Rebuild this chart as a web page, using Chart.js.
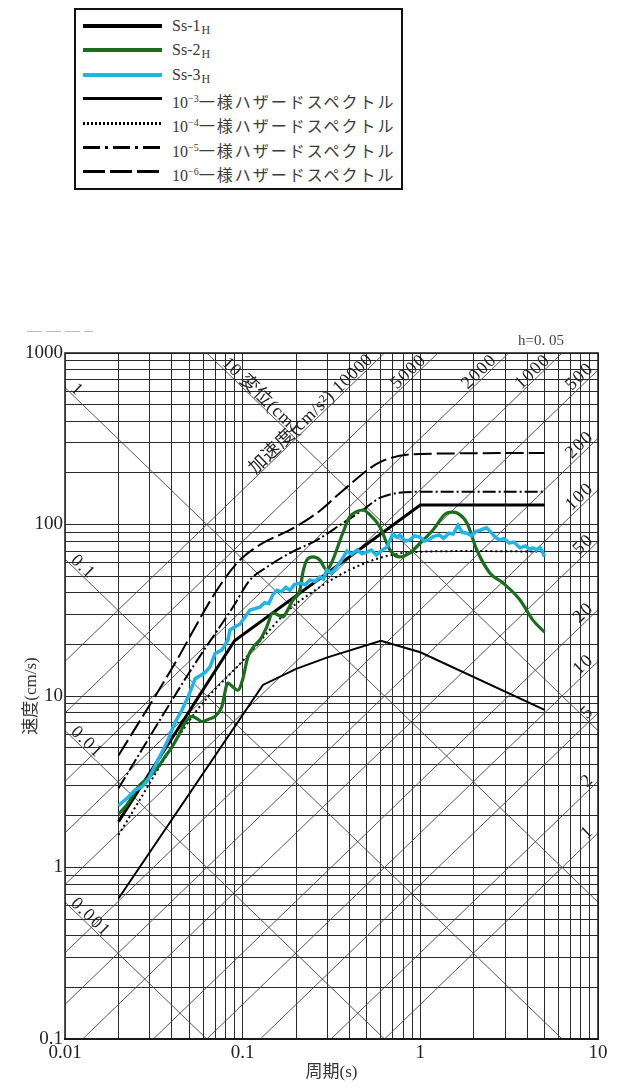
<!DOCTYPE html>
<html>
<head>
<meta charset="utf-8">
<script src="https://cdn.jsdelivr.net/npm/chart.js@4.4.1/dist/chart.umd.min.js"></script>
<style>
html,body{margin:0;padding:0;background:#fff;}
#wrap{position:relative;width:620px;height:1091px;overflow:hidden;background:#fff;}
#c{position:absolute;left:0;top:0;}
#legend{position:absolute;left:74px;top:8px;width:325px;height:178px;border:2.5px solid #111;background:#fff;font-family:"Liberation Serif","Noto Sans CJK JP",serif;color:#3a3a3a;}
.row{position:absolute;left:0;height:24px;width:100%;}
.sample{position:absolute;left:7px;width:79px;}
.lbl{position:absolute;left:96px;top:0;line-height:24px;font-size:16px;white-space:nowrap;}
.lbl sub{font-size:12px;vertical-align:-3px;margin-left:1px;}
.lbl sup{font-size:10px;vertical-align:6px;}
.jp{letter-spacing:2px;}
#hval{position:absolute;left:518px;top:332px;font:15px "Liberation Serif",serif;color:#444;white-space:nowrap;}
#dash{position:absolute;left:27px;top:331px;width:66px;height:1px;background:repeating-linear-gradient(to right,#bbb 0 15px,transparent 15px 19px);}
</style>
</head>
<body>
<div id="wrap">
<canvas id="c" width="620" height="1091"></canvas>
<div id="dash"></div>
<div id="hval">h=0. 05</div>
<div id="legend">
  <div class="row" style="top:4px"><span class="sample" style="top:10px;height:4px;background:#000"></span><span class="lbl">Ss-1<sub>H</sub></span></div>
  <div class="row" style="top:28.3px"><span class="sample" style="top:10px;height:4px;background:#1b6e1b"></span><span class="lbl">Ss-2<sub>H</sub></span></div>
  <div class="row" style="top:52.6px"><span class="sample" style="top:10px;height:4.5px;background:#1fb4ea"></span><span class="lbl">Ss-3<sub>H</sub></span></div>
  <div class="row" style="top:76.9px"><span class="sample" style="top:10.5px;height:3px;background:#000"></span><span class="lbl">10<sup>−3</sup><span class="jp">一様ハザードスペクトル</span></span></div>
  <div class="row" style="top:101.2px"><span class="sample" style="top:11px;height:2.5px;background:repeating-linear-gradient(to right,#000 0 2px,transparent 2px 4px)"></span><span class="lbl">10<sup>−4</sup><span class="jp">一様ハザードスペクトル</span></span></div>
  <div class="row" style="top:125.5px"><span class="sample" style="top:10.5px;height:3px;background:repeating-linear-gradient(to right,#000 0 17px,transparent 17px 22px,#000 22px 25px,transparent 25px 30px)"></span><span class="lbl">10<sup>−5</sup><span class="jp">一様ハザードスペクトル</span></span></div>
  <div class="row" style="top:149.8px"><span class="sample" style="top:10.5px;height:3px;background:repeating-linear-gradient(to right,#000 0 22px,transparent 22px 27px)"></span><span class="lbl">10<sup>−6</sup><span class="jp">一様ハザードスペクトル</span></span></div>
</div>
</div>
<script>
// ---- axis definitions ----
const xDecades = [0.01, 0.1, 1, 10];
const yDecades = [0.1, 1, 10, 100, 1000];
const displacementLines = [0.001, 0.01, 0.1, 1, 10];          // cm
const accelerationLines = [1, 2, 5, 10, 20, 50, 100, 200, 500, 1000, 2000, 5000, 10000]; // cm/s2

// ---- series ----
const periodSs1 = [0.02, 0.09, 1.0, 5.0];
const velSs1    = [1.85, 21, 130, 130];

const periodSs2 = [0.02, 0.0225, 0.0258, 0.03, 0.0334, 0.037, 0.040, 0.044, 0.0473, 0.0517, 0.055, 0.059, 0.064, 0.070, 0.0762, 0.0826, 0.088, 0.094, 0.100, 0.107, 0.117, 0.125, 0.136, 0.148, 0.160, 0.1685, 0.180, 0.192, 0.210, 0.218, 0.230, 0.249, 0.272, 0.297, 0.316, 0.366, 0.400, 0.440, 0.475, 0.520, 0.593, 0.675, 0.767, 0.873, 1.0, 1.178, 1.41, 1.52, 1.61, 1.83, 2.08, 2.46, 2.92, 3.64, 4.3, 5.0];
const velSs2    = [2.05, 2.35, 2.95, 3.4, 3.86, 4.5, 5.04, 6.0, 6.96, 7.6, 7.4, 7.1, 7.3, 7.6, 8.63, 11.9, 11.3, 10.8, 12.5, 16.9, 19.8, 21.2, 25, 30.5, 29.5, 28.9, 32, 36.3, 41.5, 52.2, 62.1, 64.7, 62.1, 54.3, 59.6, 89.2, 110.6, 119, 121.5, 114, 96.7, 71, 64.7, 68.2, 78, 92.9, 116.7, 118, 116.7, 102, 71, 52.2, 45.6, 36.3, 27.7, 23.6];

const periodSs3 = [0.02, 0.0225, 0.0248, 0.0271, 0.0293, 0.0334, 0.038, 0.0416, 0.0455, 0.0493, 0.054, 0.0614, 0.0655, 0.070, 0.0762, 0.0826, 0.0848, 0.0966, 0.110, 0.125, 0.133, 0.140, 0.148, 0.156, 0.165, 0.175, 0.1845, 0.195, 0.210, 0.225, 0.239, 0.255, 0.272, 0.285, 0.297, 0.315, 0.338, 0.360, 0.386, 0.410, 0.440, 0.470, 0.500, 0.530, 0.565, 0.600, 0.650, 0.700, 0.740, 0.767, 0.820, 0.873, 0.930, 1.0, 1.05, 1.11, 1.18, 1.28, 1.35, 1.45, 1.53, 1.63, 1.72, 1.83, 1.95, 2.05, 2.17, 2.36, 2.50, 2.65, 2.79, 2.95, 3.17, 3.35, 3.64, 3.90, 4.10, 4.30, 4.50, 4.70, 4.85, 5.0];
const velSs3    = [2.3, 2.55, 2.83, 2.95, 3.24, 4.24, 5.54, 7.0, 8.28, 9.86, 12.6, 13.7, 14.8, 17.7, 18.5, 21.2, 24.3, 26.3, 31.7, 33, 35, 34.5, 39, 41.3, 40.5, 43, 41.3, 44.5, 45.6, 44.5, 47.5, 46.5, 49.4, 48, 54.3, 52, 56.5, 62, 70, 67, 71, 67.5, 69, 71, 66.3, 70, 74, 88, 84, 87, 80, 81.2, 86, 84.3, 80, 81.2, 85, 87, 83, 89, 88, 99, 90, 89, 86, 91, 92.6, 95.7, 90, 84, 81.2, 83, 78, 79, 73.1, 75, 72, 73.1, 71, 73.5, 70, 65];

const periodH3 = [0.02, 0.13, 0.2, 0.3, 0.6, 1.0, 5.0];
const velH3    = [0.66, 11.6, 14.4, 16.8, 21, 18, 8.3];
const periodH4 = [0.02, 0.054, 0.1, 0.2, 0.9, 2.0, 5.0];
const velH4    = [1.55, 8.0, 16, 34.5, 69, 70, 69.5];
const periodH5 = [0.02, 0.0525, 0.0882, 0.11, 0.137, 0.1845, 0.262, 0.367, 0.475, 0.6, 1.0, 5.0];
const velH5    = [2.9, 14.8, 33, 47.5, 56.5, 68.2, 81.2, 102, 121.5, 144, 155, 155];
const periodH6 = [0.02, 0.0405, 0.0717, 0.0966, 0.13, 0.1845, 0.262, 0.367, 0.593, 1.0, 5.0];
const velH6    = [4.5, 14.8, 41.5, 62.1, 78, 92.9, 116.7, 158, 231, 258, 261];

// ---- helpers ----
const pts = (t, v) => t.map((p, i) => ({x: p, y: v[i]}));
function tickList(decades) {
  const out = [];
  for (let i = 0; i < decades.length - 1; i++) {
    for (let m = 1; m <= 9; m++) out.push(Number((decades[i] * m).toPrecision(6)));
  }
  out.push(decades[decades.length - 1]);
  return out;
}
function decadeLabel(v) {
  const e = Math.log10(v), r = Math.round(e);
  if (Math.abs(e - r) > 1e-6) return '';
  return r < 0 ? v.toFixed(-r) : String(Math.round(v));
}
const SERIF = '"Liberation Serif", "Noto Sans CJK JP", serif';
Chart.defaults.font.family = SERIF;

const diagPlugin = {
  id: 'diag',
  beforeDatasetsDraw(chart) {
    const {ctx, chartArea: a, scales: {x, y}} = chart;
    const xMin = xDecades[0], xMax = xDecades[xDecades.length - 1];
    const yMax = yDecades[yDecades.length - 1];
    const TWO_PI = 2 * Math.PI;
    ctx.save();
    ctx.beginPath();
    ctx.rect(a.left, a.top, a.right - a.left, a.bottom - a.top);
    ctx.clip();
    ctx.strokeStyle = '#444';
    ctx.lineWidth = 0.9;
    const seg = (t0, v0, t1, v1) => {
      ctx.beginPath();
      ctx.moveTo(x.getPixelForValue(t0), y.getPixelForValue(v0));
      ctx.lineTo(x.getPixelForValue(t1), y.getPixelForValue(v1));
      ctx.stroke();
    };
    displacementLines.forEach(D => seg(xMin, TWO_PI * D / xMin, xMax, TWO_PI * D / xMax));
    accelerationLines.forEach(A => seg(xMin, A * xMin / TWO_PI, xMax, A * xMax / TWO_PI));
    ctx.restore();

    // labels
    const ux0 = x.getPixelForValue(10) - x.getPixelForValue(1);
    const uy0 = y.getPixelForValue(10) - y.getPixelForValue(1);
    const len = Math.hypot(ux0, uy0);
    const ua = {x: ux0 / len, y: uy0 / len};      // ascending (up-right)
    const ud = {x: ux0 / len, y: -uy0 / len};     // descending (down-right)
    const angA = Math.atan2(ua.y, ua.x), angD = Math.atan2(ud.y, ud.x);
    ctx.save();
    ctx.fillStyle = '#1e1e1e';
    ctx.font = '18px ' + SERIF;
    const put = (txt, px, py, ang, align, off, spacing) => {
      ctx.save();
      try { ctx.letterSpacing = spacing; } catch (e) {}
      ctx.translate(px, py);
      ctx.rotate(ang);
      ctx.textAlign = align;
      ctx.textBaseline = 'alphabetic';
      ctx.fillText(txt, 0, -off);
      ctx.restore();
    };
    accelerationLines.forEach(A => {
      const tTop = TWO_PI * yMax / A;
      const long = A === 10000;
      const txt = long ? '加速度(cm/s²) 10000' : String(A);
      if (tTop <= xMax) {
        const px = x.getPixelForValue(tTop), py = a.top;
        put(txt, px - ua.x * 13, py - ua.y * 13, angA, 'right', 2, long ? '0.6px' : '1.5px');
      } else {
        const px = a.right, py = y.getPixelForValue(A * xMax / TWO_PI);
        put(txt, px - ua.x * 2, py - ua.y * 2, angA, 'right', 3, '1.5px');
      }
    });
    displacementLines.forEach(D => {
      const vLeft = TWO_PI * D / xMin;
      if (vLeft <= yMax) {
        const px = a.left, py = y.getPixelForValue(vLeft);
        put(String(D), px + ud.x * 5, py + ud.y * 5, angD, 'left', 2, '1.5px');
      } else {
        const px = x.getPixelForValue(TWO_PI * D / yMax), py = a.top;
        put(D + ' 変位(cm)', px + ud.x * 18, py + ud.y * 18, angD, 'left', 2, '0.8px');
      }
    });
    ctx.restore();

    // frame
    ctx.save();
    ctx.strokeStyle = '#1a1a1a';
    ctx.lineWidth = 1.5;
    ctx.strokeRect(a.left, a.top, a.right - a.left, a.bottom - a.top);
    ctx.lineWidth = 2;
    ctx.beginPath(); ctx.moveTo(a.left, a.bottom); ctx.lineTo(a.right, a.bottom); ctx.stroke();
    ctx.restore();
  }
};

const GREEN = '#1b6e1b', CYAN = '#1fb4ea';
const line = (label, t, v, color, width, dash, order, extra) => Object.assign({
  label, data: pts(t, v), showLine: true, borderColor: color, backgroundColor: color,
  borderWidth: width, borderDash: dash, pointRadius: 0, fill: false, order, tension: 0
}, extra || {});

new Chart(document.getElementById('c'), {
  type: 'scatter',
  data: {
    datasets: [
      line('Ss-3H', periodSs3, velSs3, CYAN, 3.5, [], 0),
      line('Ss-2H', periodSs2, velSs2, GREEN, 3.2, [], 1, {cubicInterpolationMode: 'monotone'}),
      line('Ss-1H', periodSs1, velSs1, '#000', 3, [], 2),
      line('1e-3', periodH3, velH3, '#000', 2, [], 3),
      line('1e-4', periodH4, velH4, '#000', 2, [2, 3], 4, {cubicInterpolationMode: 'monotone'}),
      line('1e-5', periodH5, velH5, '#000', 2, [13, 3, 2, 3], 5, {cubicInterpolationMode: 'monotone'}),
      line('1e-6', periodH6, velH6, '#000', 2, [18, 5], 6, {cubicInterpolationMode: 'monotone'})
    ]
  },
  options: {
    responsive: false,
    animation: false,
    devicePixelRatio: 1,
    layout: {padding: {left: 0, top: 353, right: 22, bottom: 0}},
    plugins: {legend: {display: false}, tooltip: {enabled: false}},
    scales: {
      x: {
        type: 'logarithmic', min: xDecades[0], max: xDecades[xDecades.length - 1],
        afterFit: s => { s.height = 52; },
        afterBuildTicks: s => { s.ticks = tickList(xDecades).map(v => ({value: v})); },
        grid: {color: '#2a2a2a', lineWidth: 1, drawTicks: false},
        border: {display: true, color: '#111', width: 2},
        ticks: {autoSkip: false, maxRotation: 0, padding: 3, color: '#222', font: {size: 19, family: SERIF}, callback: v => decadeLabel(v)},
        title: {display: true, text: '周期(s)', color: '#333', font: {size: 17, family: SERIF}, padding: {top: 0, bottom: 8}}
      },
      y: {
        type: 'logarithmic', min: yDecades[0], max: yDecades[yDecades.length - 1],
        afterFit: s => { s.width = 65; },
        afterBuildTicks: s => { s.ticks = tickList(yDecades).map(v => ({value: v})); },
        grid: {color: '#2a2a2a', lineWidth: 1, drawTicks: false},
        border: {display: true, color: '#888', width: 1},
        ticks: {autoSkip: false, padding: 2, color: '#222', font: {size: 19, family: SERIF}, callback: v => decadeLabel(v)},
        title: {display: true, text: '速度(cm/s)', color: '#333', font: {size: 17, family: SERIF}, padding: {top: 21, bottom: 0}}
      }
    }
  },
  plugins: [diagPlugin]
});
</script>
</body>
</html>
